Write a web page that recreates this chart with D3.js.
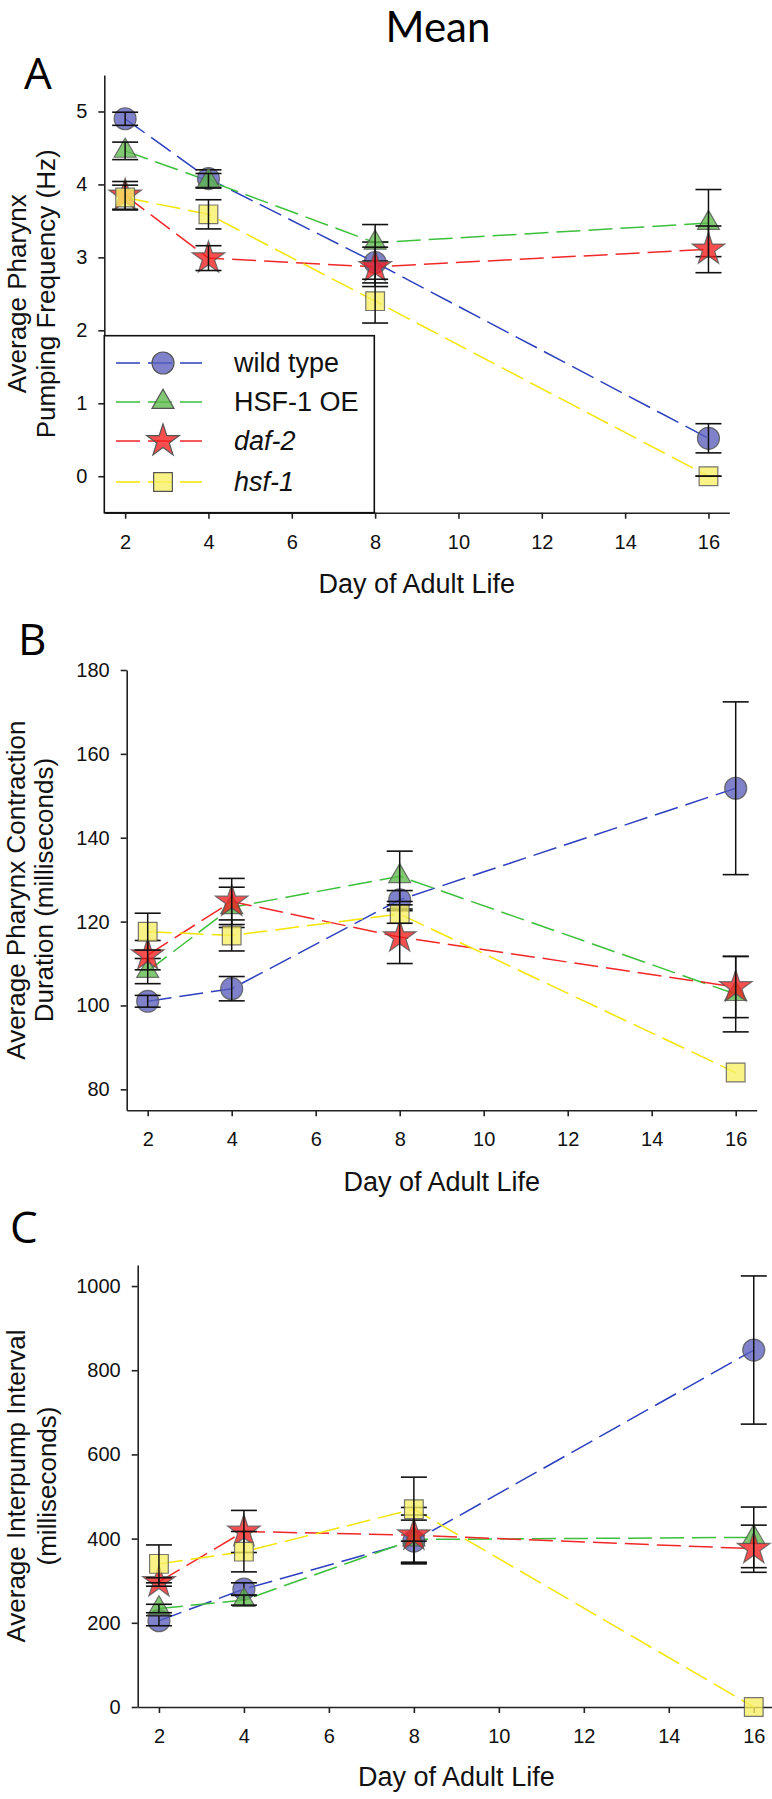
<!DOCTYPE html>
<html>
<head>
<meta charset="utf-8">
<script src="https://cdn.jsdelivr.net/npm/d3@7"></script>
<style>
  body { margin: 0; background: #fff; }
  svg { display: block; }
  .tick text { font-family: "Liberation Sans", Arial, sans-serif; font-size: 20px; fill: #111; }
  .domain, .tick line { stroke: #222; stroke-width: 1.6px; }
</style>
</head>
<body>
<svg id="chart"></svg>
<script>
// days and series
var days = [2, 4, 8, 16];
var seriesNames = ['wild type', 'HSF-1 OE', 'daf-2', 'hsf-1'];
var xTicks = [2, 4, 6, 8, 10, 12, 14, 16];

// A: pumping frequency (Hz)
var pumpWild = [4.90, 4.08, 2.93, 0.52];
var pumpWildErr = [0.09, 0.12, 0.28, 0.20];
var pumpOE = [4.46, 4.05, 3.20, 3.47];
var pumpOEErr = [0.12, 0.10, 0.25, 0.46];
var pumpDaf = [3.85, 2.99, 2.87, 3.11];
var pumpDafErr = [0.19, 0.17, 0.27, 0.32];
var pumpHsf = [3.82, 3.59, 2.40, 0.00];
var pumpHsfErr = [0.17, 0.20, 0.30, 0.00];
var pumpTicks = [0, 1, 2, 3, 4, 5];

// B: contraction duration (ms)
var durWild = [101.0, 104.0, 125.2, 151.8];
var durWildErr = [1.4, 2.9, 2.2, 20.6];
var durOE = [108.2, 123.4, 130.8, 102.7];
var durOEErr = [3.0, 4.8, 6.0, 9.0];
var durDaf = [112.0, 124.8, 116.3, 104.4];
var durDafErr = [3.5, 5.5, 6.3, 7.3];
var durHsf = [117.6, 116.7, 121.8, 84.0];
var durHsfErr = [4.4, 3.7, 2.2, null];
var durTicks = [80, 100, 120, 140, 160, 180];

// C: interpump interval (ms)
var ipiWild = [205, 280, 394, 848];
var ipiWildErr = [12, 15, 50, 176];
var ipiOE = [234, 254, 398, 403];
var ipiOEErr = [10, 12, 58, 72];
var ipiDaf = [297, 417, 408, 376];
var ipiDafErr = [10, 50, 66, 56];
var ipiHsf = [340, 369, 470, 0];
var ipiHsfErr = [45, 48, 76, null];
var ipiTicks = [0, 200, 400, 600, 800, 1000];

var width = 772;
var height = 1799;
var svg = d3.select('#chart').attr('width', width).attr('height', height);

var lineColors = ['#2b3fbf', '#3cbf3c', '#f02828', '#f2e600'];
var fillColors = ['#5b5fbb', '#5db84a', '#f21e1e', '#f7ef64'];
var shapes = [d3.symbolCircle, d3.symbolTriangle, d3.symbolStar, d3.symbolSquare];
var sizes = [380, 210, 330, 350];
var italic = [false, false, true, true];

function drawPanel(p) {
    var x = d3.scaleLinear().domain([1.5, 16.5]).range(p.xRange);
    var y = d3.scaleLinear().domain(p.yDomain).range(p.yRange);
    var g = svg.append('g');

    g.append('g')
        .attr('transform', `translate(0,${p.yRange[0]})`)
        .call(d3.axisBottom(x).tickValues(xTicks).tickFormat(d3.format('d'))
            .tickSize(6).tickSizeOuter(0).tickPadding(16));
    g.append('g')
        .attr('transform', `translate(${p.xRange[0]},0)`)
        .call(d3.axisLeft(y).tickValues(p.yTicks).tickFormat(d3.format('d'))
            .tickSize(6).tickSizeOuter(0).tickPadding(11));

    var line = d3.line().x((d, i) => x(days[i])).y(d => y(d));

    p.series.forEach(function (s, k) {
        g.append('path')
            .attr('d', line(s.values))
            .attr('fill', 'none')
            .attr('stroke', lineColors[k])
            .attr('stroke-width', 1.5)
            .attr('stroke-dasharray', '24,8');
    });

    p.series.forEach(function (s, k) {
        g.selectAll('.m' + k)
            .data(s.values)
            .enter()
            .append('path')
            .attr('transform', (d, i) => `translate(${x(days[i])},${y(d)})`)
            .attr('d', d3.symbol(shapes[k], sizes[k]))
            .attr('fill', fillColors[k])
            .attr('fill-opacity', 0.78)
            .attr('stroke', '#555')
            .attr('stroke-opacity', 0.8)
            .attr('stroke-width', 1.2);

        // error bars
        s.values.forEach(function (v, i) {
            var e = s.err[i];
            if (e === null) return;
            var cx = x(days[i]);
            g.append('line')
                .attr('x1', cx).attr('x2', cx)
                .attr('y1', y(v - e)).attr('y2', y(v + e))
                .attr('stroke', '#111').attr('stroke-width', 1.5);
            [v - e, v + e].forEach(function (w) {
                g.append('line')
                    .attr('x1', cx - 13).attr('x2', cx + 13)
                    .attr('y1', y(w)).attr('y2', y(w))
                    .attr('stroke', '#111').attr('stroke-width', 1.6);
            });
        });
    });

    g.append('text')
        .attr('text-anchor', 'middle')
        .attr('transform', `translate(${(p.xRange[0] + p.xRange[1]) / 2},${p.xLabelY})`)
        .style('font-family', '"Liberation Sans", Arial, sans-serif')
        .style('font-size', '27px')
        .attr('fill', '#111')
        .text('Day of Adult Life');

    var cy = (p.yRange[0] + p.yRange[1]) / 2;
    p.yLabel.forEach(function (t, j) {
        g.append('text')
            .attr('text-anchor', 'middle')
            .attr('transform', `translate(${p.yLabelX[j]},${cy}) rotate(-90)`)
            .style('font-family', '"Liberation Sans", Arial, sans-serif')
            .style('font-size', '26px')
            .attr('fill', '#111')
            .text(t);
    });

    g.append('text')
        .attr('x', p.letterPos[0])
        .attr('y', p.letterPos[1])
        .style('font-family', '"Open Sans", sans-serif')
        .style('font-size', '44px')
        .attr('fill', '#000')
        .text(p.letter);
}

function mk(v, e) { return { values: v, err: e }; }

drawPanel({
    letter: 'A', letterPos: [24, 89],
    xRange: [104.3, 729.3], yRange: [512.7, 75], yDomain: [-0.5, 5.5], yTicks: pumpTicks,
    xLabelY: 593, yLabelX: [26, 55],
    yLabel: ['Average Pharynx', 'Pumping Frequency (Hz)'],
    series: [mk(pumpWild, pumpWildErr), mk(pumpOE, pumpOEErr), mk(pumpDaf, pumpDafErr), mk(pumpHsf, pumpHsfErr)]
});

drawPanel({
    letter: 'B', letterPos: [18, 655],
    xRange: [126.7, 756.7], yRange: [1110.3, 670], yDomain: [75, 180], yTicks: durTicks,
    xLabelY: 1191, yLabelX: [25, 53],
    yLabel: ['Average Pharynx Contraction', 'Duration (milliseconds)'],
    series: [mk(durWild, durWildErr), mk(durOE, durOEErr), mk(durDaf, durDafErr), mk(durHsf, durHsfErr)]
});

drawPanel({
    letter: 'C', letterPos: [10, 1243],
    xRange: [137.7, 775], yRange: [1707, 1265], yDomain: [0, 1050], yTicks: ipiTicks,
    xLabelY: 1786, yLabelX: [25, 56],
    yLabel: ['Average Interpump Interval', '(milliseconds)'],
    series: [mk(ipiWild, ipiWildErr), mk(ipiOE, ipiOEErr), mk(ipiDaf, ipiDafErr), mk(ipiHsf, ipiHsfErr)]
});

// title
svg.append('text')
    .attr('text-anchor', 'middle')
    .attr('x', 438)
    .attr('y', 42)
    .style('font-family', 'Lato, sans-serif')
    .style('font-size', '42px')
    .text('Mean');

// legend (panel A)
var legend = svg.append('g');
legend.append('rect')
    .attr('x', 104.3).attr('y', 335.7)
    .attr('width', 270).attr('height', 177)
    .attr('fill', '#fff')
    .attr('stroke', '#111')
    .attr('stroke-width', 1.6);

var legendY = [363, 402, 441, 482];
seriesNames.forEach(function (name, k) {
    legend.append('line')
        .attr('x1', 116).attr('x2', 202)
        .attr('y1', legendY[k]).attr('y2', legendY[k])
        .attr('stroke', lineColors[k])
        .attr('stroke-width', 1.5)
        .attr('stroke-dasharray', '24,8');
    legend.append('path')
        .attr('transform', `translate(163,${legendY[k]})`)
        .attr('d', d3.symbol(shapes[k], sizes[k]))
        .attr('fill', fillColors[k])
        .attr('fill-opacity', 0.78)
        .attr('stroke', '#555')
        .attr('stroke-width', 1.2);
    legend.append('text')
        .attr('x', 234)
        .attr('y', legendY[k] + 9)
        .style('font-family', '"Liberation Sans", Arial, sans-serif')
        .style('font-size', '27px')
        .style('font-style', italic[k] ? 'italic' : 'normal')
        .attr('fill', '#111')
        .text(name);
});
</script>
</body>
</html>
